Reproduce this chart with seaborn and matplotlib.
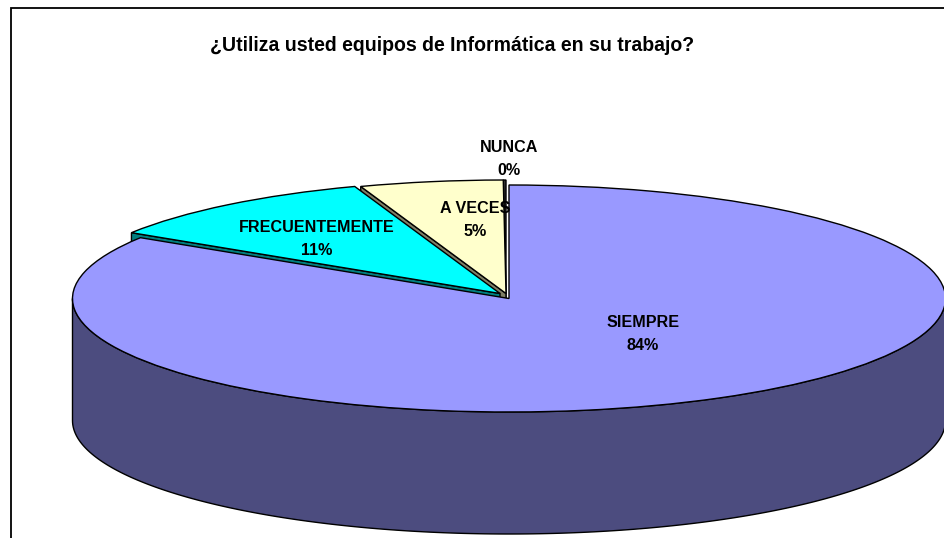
import numpy as np
import matplotlib.pyplot as plt
import seaborn as sns

titulo = "¿Utiliza usted equipos de Informática en su trabajo?"
categorias = ["SIEMPRE", "FRECUENTEMENTE", "A VECES", "NUNCA"]
valores = [84.0, 10.6, 5.3, 0.1]
etiquetas_pct = ["84%", "11%", "5%", "0%"]
colores = ["#9999FF", "#00FFFF", "#FFFFCC", "#333333"]
colores_lado = ["#4C4C7F", "#007F7F", "#7F7F66", "#1A1A1A"]

# geometria de la torta en pixeles
W, H = 945, 538
CX, CY, RX, RY = 509.0, 298.5, 436.5, 113.5
PROF = 122 / RY
desplaza = [(0, 0), (-9, 5), (-3, 5), (-3, 5)]
pos_etiquetas = [(643, 334), (317, 239), (475, 220), (509, 159)]


def px(x, y):
    return (x - CX) / RX, (CY - y) / RY


sns.set_theme(style="white")
plt.rcParams["font.family"] = ["Liberation Sans", "DejaVu Sans"]

fig = plt.figure(figsize=(W / 100, H / 100), dpi=100)
ax = fig.add_axes([0, 0, 1, 1])

wedges, _ = ax.pie(valores, colors=sns.color_palette(colores), startangle=90,
                   counterclock=False,
                   wedgeprops={"edgecolor": "black", "linewidth": 1.0})
ax.set_aspect("auto")
ax.set_xlim(px(0, 0)[0], px(W, 0)[0])
ax.set_ylim(px(0, H)[1], px(0, 0)[1])

# se dibuja de atras hacia adelante
orden = {3: 2, 2: 4, 1: 6, 0: 9}
for i, w in enumerate(wedges):
    dx, dy = desplaza[i]
    w.set_center((dx / RX, dy / RY))
    w.set_zorder(orden[i])
    if i == 0:
        continue
    # pared radial de la porcion separada
    a = np.radians(w.theta2)
    x0, y0 = w.center
    x1, y1 = x0 + np.cos(a), y0 + np.sin(a)
    ax.fill([x0, x1, x1, x0], [y0, y1, y1 - PROF, y0 - PROF],
            facecolor=colores_lado[i], edgecolor="black", linewidth=1.0,
            zorder=orden[i] - 1)

# lateral frontal de SIEMPRE
t = np.radians(np.linspace(180, 360, 200))
xs = np.r_[np.cos(t), np.cos(t[::-1])]
ys = np.r_[np.sin(t), np.sin(t[::-1]) - PROF]
ax.fill(xs, ys, facecolor=colores_lado[0], edgecolor="black", linewidth=1.0, zorder=8)

for cat, pct, (x, y) in zip(categorias, etiquetas_pct, pos_etiquetas):
    ax.text(*px(x, y), f"{cat}\n{pct}", ha="center", va="center", fontsize=11.6,
            fontweight="bold", color="black", linespacing=1.7, zorder=12)

ax.text(*px(452.5, 45), titulo, ha="center", va="center", fontsize=14.05,
        fontweight="bold", color="black", zorder=12)

# marco del area del grafico (se corta a la derecha y abajo)
fig.add_artist(plt.Rectangle((11 / W, -0.1), 1.2, 1.1 - 7.5 / H, transform=fig.transFigure,
                             fill=False, edgecolor="black", linewidth=1.3))

fig.savefig("out.png", dpi=100)
